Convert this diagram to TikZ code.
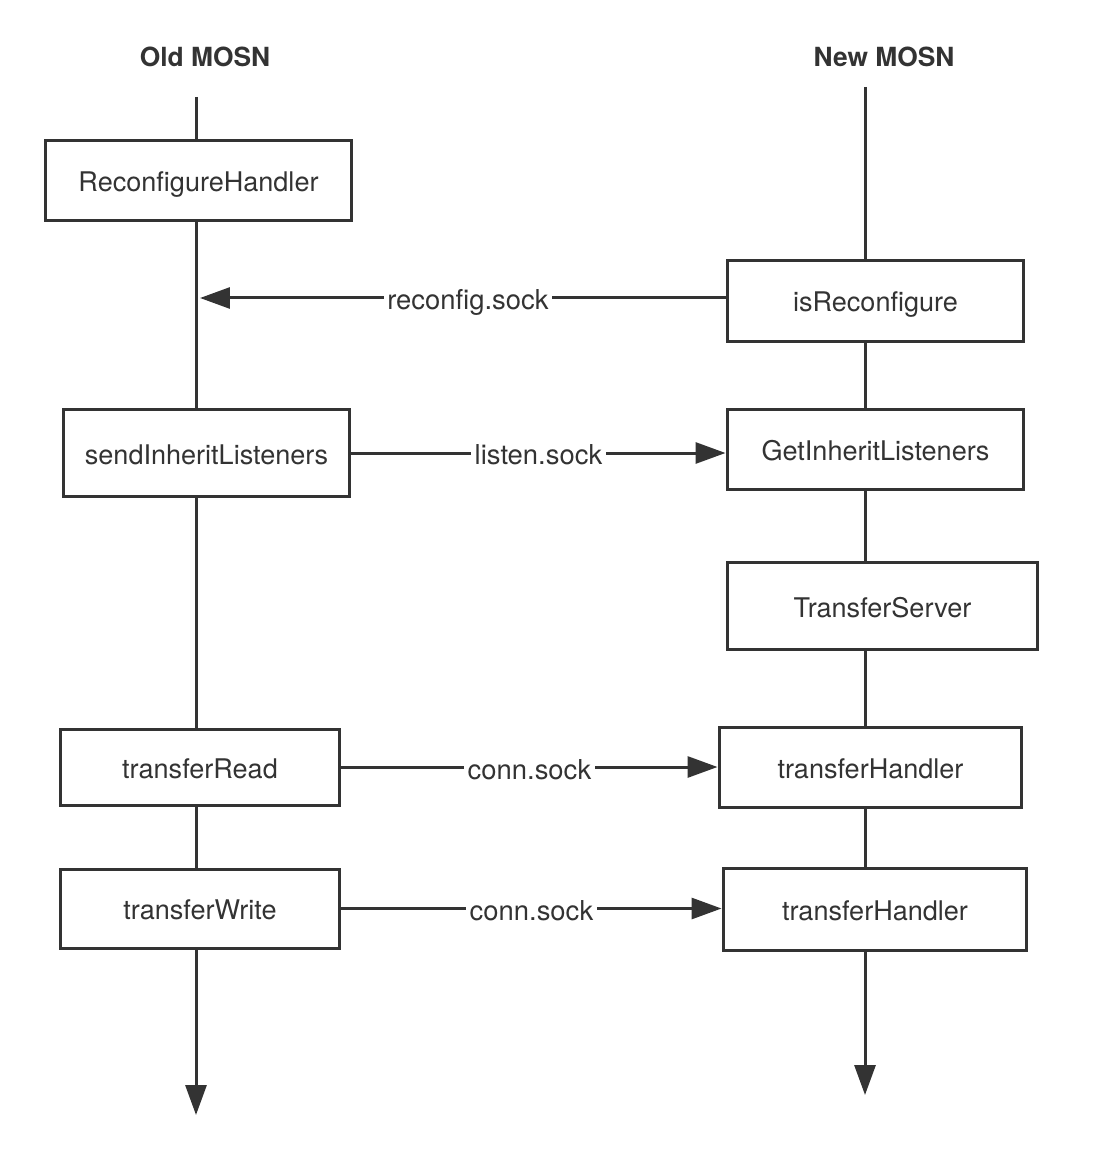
\documentclass[tikz,border=0pt]{standalone}
\usepackage{fontspec}
\setmainfont{TeX Gyre Heros}
\usetikzlibrary{arrows.meta}
\definecolor{ink}{HTML}{333333}
\tikzset{
  blk/.style={draw=ink, line width=0.06cm, text=ink, font=\fontsize{15.4}{18}\selectfont, inner sep=0pt, text height=0.44cm, text depth=0pt},
  lane/.style={draw=ink, line width=0.06cm},
  msg/.style={draw=ink, line width=0.06cm, -{Triangle[length=0.6cm, width=0.42cm]}},
  tag/.style={fill=white, text=ink, font=\fontsize{15.6}{18}\selectfont, inner sep=2pt, text height=0.48cm, text depth=0pt},
  head/.style={text=ink, font=\bfseries\fontsize{15}{18}\selectfont}
}
\begin{document}
\begin{tikzpicture}[x=0.02cm, y=-0.02cm]
\useasboundingbox (0,0) rectangle (1094,1158);

\node[head] (oldh) at (205,57) {Old MOSN};
\node[head] (newh) at (884,57) {New MOSN};

% old side
\node[blk, minimum width=6.14cm, minimum height=1.62cm] (rh) at (198.5,180.5) {ReconfigureHandler};
\node[blk, minimum width=5.74cm, minimum height=1.76cm] (sil) at (206.5,453) {sendInheritListeners};
\node[blk, minimum width=5.6cm, minimum height=1.52cm] (tr) at (200,767) {transferRead};
\node[blk, minimum width=5.6cm, minimum height=1.58cm] (tw) at (200,908.5) {transferWrite};

% new side
\node[blk, minimum width=5.94cm, minimum height=1.64cm] (isr) at (875.5,301) {isReconfigure};
\node[blk, minimum width=5.94cm, minimum height=1.62cm] (gil) at (875.5,449.5) {GetInheritListeners};
\node[blk, minimum width=6.22cm, minimum height=1.76cm] (ts) at (882.5,606) {TransferServer};
\node[blk, minimum width=6.06cm, minimum height=1.6cm] (th1) at (870.5,767) {transferHandler};
\node[blk, minimum width=6.08cm, minimum height=1.64cm] (th2) at (875,909) {transferHandler};

\coordinate (oldtop) at (196,97);
\coordinate (oldend) at (196,1115);
\coordinate (newtop) at (865,87);
\coordinate (newend) at (865,1095);
\coordinate (rcv) at (200,298);

% lifelines
\draw[lane] (oldtop) -- (oldtop |- rh.north);
\draw[lane] (oldtop |- rh.south) -- (oldtop |- sil.north);
\draw[lane] (oldtop |- sil.south) -- (oldtop |- tr.north);
\draw[lane] (oldtop |- tr.south) -- (oldtop |- tw.north);
\draw[msg] (oldtop |- tw.south) -- (oldend);

\draw[lane] (newtop) -- (newtop |- isr.north);
\draw[lane] (newtop |- isr.south) -- (newtop |- gil.north);
\draw[lane] (newtop |- gil.south) -- (newtop |- ts.north);
\draw[lane] (newtop |- ts.south) -- (newtop |- th1.north);
\draw[lane] (newtop |- th1.south) -- (newtop |- th2.north);
\draw[msg] (newtop |- th2.south) -- (newend);

% messages
\draw[msg] (isr.west |- rcv) -- node[tag, pos=0.49] {reconfig.sock} (rcv);
\draw[msg] (sil.east) -- node[tag, pos=0.5] {listen.sock} (gil.west |- sil.east);
\draw[msg] (tr.east) -- node[tag, pos=0.5] {conn.sock} (th1.west |- tr.east);
\draw[msg] (tw.east) -- node[tag, pos=0.5] {conn.sock} (th2.west |- tw.east);
\end{tikzpicture}
\end{document}
